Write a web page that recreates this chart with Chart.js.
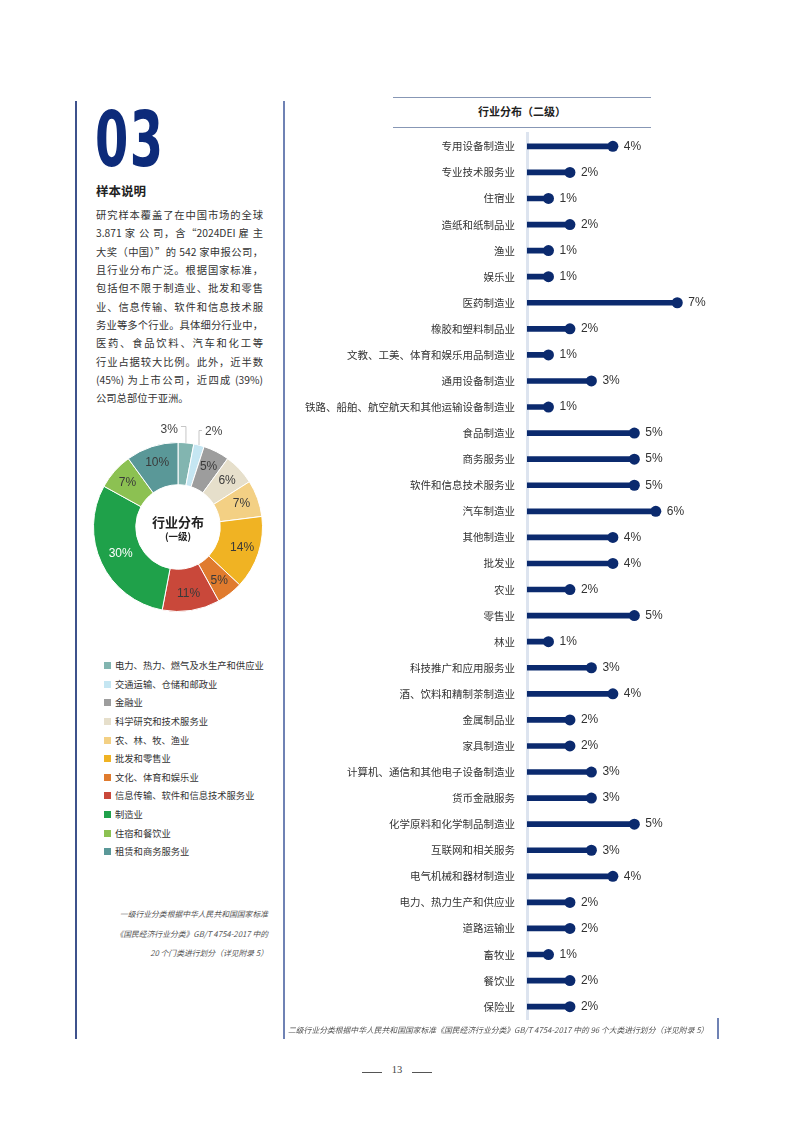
<!DOCTYPE html>
<html lang="zh-CN">
<head>
<meta charset="utf-8">
<title>行业分布</title>
<script src="https://cdn.jsdelivr.net/npm/chart.js@4.4.1/dist/chart.umd.min.js"></script>
<style>
  html, body { margin: 0; padding: 0; background: #fff; }
  body {
    width: 793px; height: 1122px; position: relative; overflow: hidden;
    font-family: "Noto Sans CJK SC", "Noto Sans", sans-serif; color: #333;
  }
  .abs { position: absolute; }
  .vline { position: absolute; width: 1.5px; }
  .big-num {
    left: 95px; top: 102px; font-family: "Liberation Sans Narrow", "DejaVu Sans Condensed", sans-serif;
    font-weight: bold; font-size: 76px; line-height: 76px; color: #0d2b7a;
    transform: scaleX(0.7); transform-origin: left top; letter-spacing: 2px;
  }
  .section-title { left: 96px; top: 181px; font-size: 12.5px; font-weight: bold; color: #222; }
  .intro { left: 96px; top: 206px; width: 167px; font-size: 10.3px; line-height: 18.35px; color: #333; }
  .intro div { text-align: justify; text-align-last: justify; white-space: nowrap; }
  .intro div.last { text-align-last: left; }
  .donut-center { left: 128px; width: 100px; top: 513px; text-align: center; color: #222; }
  .donut-center .t1 { font-size: 13px; font-weight: bold; line-height: 17px; }
  .donut-center .t2 { font-size: 9.5px; line-height: 13px; font-weight: bold; }
  .legend { left: 104px; top: 658px; font-size: 9.3px; color: #333; }
  .legend .item { height: 18.65px; line-height: 14px; white-space: nowrap; }
  .legend .sw { display: inline-block; width: 7px; height: 7px; margin-right: 4px; vertical-align: 0px; }
  .note-left { right: calc(793px - 268px); top: 904px; text-align: right; font-size: 7.8px; line-height: 19.5px; font-style: italic; color: #555; }
  .note-right { left: 288px; top: 1024px; font-size: 7.8px; font-style: italic; color: #555; white-space: nowrap; }
  .chart-title { left: 393px; top: 97px; width: 258px; height: 31px; border-top: 1.8px solid #8797b5; border-bottom: 1.8px solid #8797b5; box-sizing: border-box; text-align: center; font-size: 11px; line-height: 27px; font-weight: bold; color: #222; }
  .page-num { left: 362px; top: 1064px; width: 70px; text-align: center; font-family: "Liberation Serif", serif; font-size: 10.5px; color: #444; }
  .dash { position: absolute; top: 1072px; height: 1px; width: 20px; background: #555; }
</style>
</head>
<body>

<div class="vline" style="left:75px; top:101px; height:938px; background:#3e528c;"></div>
<div class="vline" style="left:283px; top:101px; height:938px; background:#6f82b4;"></div>
<div class="vline" style="left:717px; top:1018px; height:21px; background:#6f82b4;"></div>

<div class="abs big-num">03</div>
<div class="abs section-title">样本说明</div>
<div class="abs intro">
  <div>研究样本覆盖了在中国市场的全球</div>
  <div>3.871 家 公 司，含“2024DEI 雇 主</div>
  <div>大奖（中国）”的 542 家申报公司，</div>
  <div>且行业分布广泛。根据国家标准，</div>
  <div>包括但不限于制造业、批发和零售</div>
  <div>业、信息传输、软件和信息技术服</div>
  <div>务业等多个行业。具体细分行业中，</div>
  <div>医药、食品饮料、汽车和化工等</div>
  <div>行业占据较大比例。此外，近半数</div>
  <div>(45%) 为上市公司，近四成 (39%)</div>
  <div class="last">公司总部位于亚洲。</div>
</div>

<canvas id="level1Chart" class="abs" width="240" height="240" style="left:58px; top:407px;"></canvas>
<div class="abs donut-center"><div class="t1">行业分布</div><div class="t2">(一级)</div></div>
<div class="abs legend" id="legend"></div>

<div class="abs note-left">
  一级行业分类根据中华人民共和国国家标准<br>
  《国民经济行业分类》GB/T 4754-2017 中的<br>
  20 个门类进行划分（详见附录 5）
</div>

<div class="abs chart-title">行业分布（二级）</div>
<canvas id="level2Chart" class="abs" width="440" height="923" style="left:290px; top:115px;"></canvas>

<div class="abs note-right">二级行业分类根据中华人民共和国国家标准《国民经济行业分类》GB/T 4754-2017 中的 96 个大类进行划分（详见附录 5）</div>

<div class="dash" style="left:362px;"></div>
<div class="abs page-num">13</div>
<div class="dash" style="left:412px;"></div>

<script>
// 一级行业（环形图）
const level1Labels = [
    '电力、热力、燃气及水生产和供应业',
    '交通运输、仓储和邮政业',
    '金融业',
    '科学研究和技术服务业',
    '农、林、牧、渔业',
    '批发和零售业',
    '文化、体育和娱乐业',
    '信息传输、软件和信息技术服务业',
    '制造业',
    '住宿和餐饮业',
    '租赁和商务服务业'
];
const level1Values = [3, 2, 5, 6, 7, 14, 5, 11, 30, 7, 10];
const level1Colors = [
    '#82b5b0', '#c5e6f2', '#9d9d9d', '#e6dfcb', '#f3d084', '#f0b323',
    '#e07b2e', '#c9483a', '#1fa14a', '#8cc152', '#5a9898'
];

// 二级行业（棒棒糖图）
const level2Labels = [
    '专用设备制造业', '专业技术服务业', '住宿业', '造纸和纸制品业', '渔业', '娱乐业',
    '医药制造业', '橡胶和塑料制品业', '文教、工美、体育和娱乐用品制造业', '通用设备制造业',
    '铁路、船舶、航空航天和其他运输设备制造业', '食品制造业', '商务服务业', '软件和信息技术服务业',
    '汽车制造业', '其他制造业', '批发业', '农业', '零售业', '林业', '科技推广和应用服务业',
    '酒、饮料和精制茶制造业', '金属制品业', '家具制造业', '计算机、通信和其他电子设备制造业',
    '货币金融服务', '化学原料和化学制品制造业', '互联网和相关服务', '电气机械和器材制造业',
    '电力、热力生产和供应业', '道路运输业', '畜牧业', '餐饮业', '保险业'
];
const level2Values = [
    4, 2, 1, 2, 1, 1, 7, 2, 1, 3, 1, 5, 5, 5, 6, 4, 4,
    2, 5, 1, 3, 4, 2, 2, 3, 3, 5, 3, 4, 2, 2, 1, 2, 2
];

const NAVY = '#0b2a6e';
const NUM_FONT = '"Liberation Sans", Arial, sans-serif';
const CJK_FONT = '"Noto Sans CJK SC", "Noto Sans", sans-serif';

// 图例
const legendBox = document.getElementById('legend');
level1Labels.forEach((label, i) => {
    const item = document.createElement('div');
    item.className = 'item';
    item.innerHTML = '<span class="sw" style="background:' + level1Colors[i] + '"></span>' + label;
    legendBox.appendChild(item);
});

// 环形图上的百分比标签
const donutLabels = {
    id: 'donutLabels',
    afterDatasetsDraw(chart) {
        const ctx = chart.ctx;
        const arcs = chart.getDatasetMeta(0).data;
        ctx.save();
        ctx.font = '12px ' + NUM_FONT;
        ctx.textBaseline = 'middle';
        arcs.forEach((arc, i) => {
            const p = arc.getProps(['x', 'y', 'startAngle', 'endAngle', 'innerRadius', 'outerRadius'], true);
            const mid = (p.startAngle + p.endAngle) / 2;
            const text = level1Values[i] + '%';
            if (i < 2) {
                // 小扇区：引线 + 外部标签
                const ex = p.x + Math.cos(mid) * p.outerRadius;
                const ey = p.y + Math.sin(mid) * p.outerRadius;
                const topY = i === 0 ? p.y - p.outerRadius - 16 : p.y - p.outerRadius - 12;
                ctx.strokeStyle = '#b8b8b8';
                ctx.lineWidth = 0.8;
                ctx.beginPath();
                ctx.moveTo(ex, ey);
                ctx.lineTo(ex, topY);
                ctx.lineTo(i === 0 ? ex - 5 : ex + 3, topY);
                ctx.stroke();
                ctx.fillStyle = '#444';
                if (i === 0) {
                    ctx.textAlign = 'right';
                    ctx.fillText(text, ex - 8, topY + 3);
                } else {
                    ctx.textAlign = 'left';
                    ctx.fillText(text, ex + 6, topY + 1);
                }
            } else {
                const big = level1Values[i] >= 30;
                const r = (p.innerRadius + p.outerRadius) / 2 + (big ? 0 : 4);
                ctx.fillStyle = big ? '#fff' : '#3a3a3a';
                ctx.textAlign = 'center';
                ctx.fillText(text, p.x + Math.cos(mid) * r, p.y + Math.sin(mid) * r);
            }
        });
        ctx.restore();
    }
};

new Chart(document.getElementById('level1Chart'), {
    type: 'doughnut',
    data: {
        labels: level1Labels,
        datasets: [{
            data: level1Values,
            backgroundColor: level1Colors,
            borderColor: '#fff',
            borderWidth: 1
        }]
    },
    options: {
        responsive: false,
        animation: false,
        radius: 84.5,
        cutout: '50%',
        plugins: {
            legend: { display: false },
            tooltip: { enabled: false }
        }
    },
    plugins: [donutLabels]
});

// 棒棒糖末端的数值
const valueLabels = {
    id: 'valueLabels',
    afterDatasetsDraw(chart) {
        const ctx = chart.ctx;
        const points = chart.getDatasetMeta(1).data;
        ctx.save();
        ctx.font = '12px ' + NUM_FONT;
        ctx.fillStyle = '#333';
        ctx.textBaseline = 'middle';
        ctx.textAlign = 'left';
        points.forEach((pt, i) => {
            ctx.fillText(level2Values[i] + '%', pt.x + 11, pt.y);
        });
        ctx.restore();
    }
};

new Chart(document.getElementById('level2Chart'), {
    type: 'bar',
    data: {
        labels: level2Labels,
        datasets: [
            {
                type: 'bar',
                indexAxis: 'y',
                data: level2Values,
                backgroundColor: NAVY,
                barThickness: 5,
                order: 2
            },
            {
                type: 'line',
                indexAxis: 'y',
                data: level2Values,
                showLine: false,
                pointRadius: 5.5,
                pointBackgroundColor: NAVY,
                pointBorderWidth: 0,
                order: 1
            }
        ]
    },
    options: {
        indexAxis: 'y',
        responsive: false,
        animation: false,
        layout: { padding: { top: 7, bottom: 3, left: 0, right: 0 } },
        plugins: {
            legend: { display: false },
            tooltip: { enabled: false }
        },
        scales: {
            x: { display: false, min: 0, max: 9.2 },
            y: {
                grid: { display: false, drawTicks: false },
                border: { display: true, color: '#dde4ef', width: 3 },
                ticks: {
                    autoSkip: false,
                    padding: 12,
                    color: '#333',
                    font: { size: 10.5, family: CJK_FONT }
                },
                afterFit(scale) { scale.width = 237; }
            }
        }
    },
    plugins: [valueLabels]
});
</script>
</body>
</html>
